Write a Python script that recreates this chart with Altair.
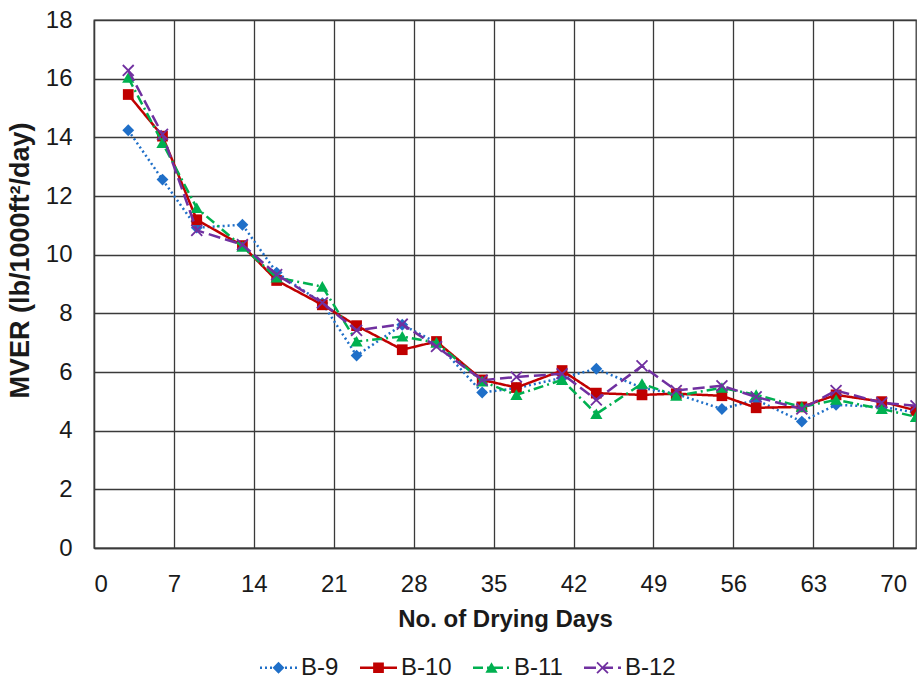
import altair as alt
import pandas as pd

# ---- data ----
days = [3, 6, 9, 13, 16, 20, 23, 27, 30, 34, 37, 41, 44, 48, 51, 55, 58, 62, 65, 69, 72]
b9 = [14.24, 12.56, 10.92, 11.02, 9.39, 8.35, 6.56, 7.61, 7.00, 5.30, 5.45, 5.80, 6.11,
      5.46, 5.25, 4.74, 5.05, 4.31, 4.88, 4.81, 4.62]
b10 = [15.46, 14.04, 11.19, 10.31, 9.12, 8.29, 7.58, 6.76, 7.04, 5.73, 5.47, 6.05, 5.28,
       5.22, 5.26, 5.19, 4.78, 4.81, 5.22, 4.99, 4.69]
b11 = [16.03, 13.81, 11.59, 10.27, 9.22, 8.91, 7.04, 7.21, 7.00, 5.68, 5.22, 5.73, 4.57,
       5.60, 5.19, 5.46, 5.22, 4.81, 5.05, 4.74, 4.47]
b12 = [16.28, 14.10, 10.83, 10.34, 9.32, 8.36, 7.42, 7.63, 6.87, 5.72, 5.83, 5.94, 5.05,
       6.21, 5.37, 5.53, 5.15, 4.74, 5.37, 4.95, 4.85]

series = ["B-9", "B-10", "B-11", "B-12"]
x_ticks = [0, 7, 14, 21, 28, 35, 42, 49, 56, 63, 70]
y_ticks = [0, 2, 4, 6, 8, 10, 12, 14, 16, 18]

# ---- styles ----
colors = ["#1F6FC8", "#C00000", "#00B050", "#7030A0"]
dashes = [[2, 3], [1, 0], [10, 4, 2, 4], [12, 5]]
markers = [
    "M0,-0.32L0.32,0L0,0.32L-0.32,0Z",
    "M-0.29,-0.29L0.29,-0.29L0.29,0.29L-0.29,0.29Z",
    "M0,-0.3L0.33,0.27L-0.33,0.27Z",
    "M-0.33,-0.26L-0.26,-0.33L0.33,0.26L0.26,0.33Z M0.26,-0.33L0.33,-0.26L-0.26,0.33L-0.33,0.26Z",
]
FONT = "Liberation Sans"
TXT = "#1a1a1a"
GRID = "#3a3a3a"
SYM = 1369            # symbol box = 37 px
UNIT = 18.5           # px per path unit at SYM
LW = 2.5              # line width px


def legend_symbol(pattern, marker):
    """Filled path: dashed line segment (as rectangles) plus marker."""
    half = LW / 2 / UNIT
    parts = []
    pos = -UNIT
    i = 0
    while pos < UNIT - 1e-9:
        seg = pattern[i % len(pattern)]
        end = min(pos + seg, UNIT)
        if i % 2 == 0:
            a, b = pos / UNIT, end / UNIT
            parts.append(f"M{a:.3f},{-half:.3f}L{b:.3f},{-half:.3f}L{b:.3f},{half:.3f}L{a:.3f},{half:.3f}Z")
        pos = end
        i += 1
    parts.append(marker)
    return " ".join(parts)


legend_paths = [legend_symbol(p, m) for p, m in zip(dashes, markers)]

rows = []
for name, vals in zip(series, [b9, b10, b11, b12]):
    for d, v in zip(days, vals):
        rows.append({"day": d, "mver": v, "series": name})
df = pd.DataFrame(rows)

x = alt.X("day:Q",
          scale=alt.Scale(domain=[0, 72], nice=False, zero=True),
          axis=alt.Axis(values=x_ticks, title="No. of Drying Days", grid=True,
                        labelPadding=24, titlePadding=11))
y = alt.Y("mver:Q",
          scale=alt.Scale(domain=[0, 18], nice=False),
          axis=alt.Axis(values=y_ticks, title="MVER (lb/1000ft²/day)", grid=True,
                        labelPadding=22, titleAngle=-90, titleX=-74, titleY=240,
                        titleBaseline="middle", titleAlign="center", titleFontSize=27))

base = alt.Chart(df)
layers = []
for name, c, d, m in zip(series, colors, dashes, markers):
    sub = base.transform_filter(alt.datum.series == name)
    layers.append(sub.mark_line(color=c, strokeDash=d, strokeWidth=LW, clip=True).encode(
        x=x, y=y, order=alt.Order("day:Q")))
    layers.append(sub.mark_point(shape=m, size=SYM, filled=True, color=c, opacity=1,
                                 strokeWidth=0, clip=True).encode(x=x, y=y))

leg = alt.Legend(orient="none", legendX=166, legendY=629, direction="horizontal",
                 title=None, symbolSize=SYM, symbolStrokeWidth=0, symbolOpacity=1,
                 labelFontSize=24, labelFont=FONT, labelColor=TXT,
                 labelOffset=4, columnPadding=21, padding=0)

legend_layer = base.transform_filter("false").mark_point(
    filled=True, size=SYM, strokeWidth=0, opacity=1).encode(
    x=x, y=y,
    fill=alt.Fill("series:N", scale=alt.Scale(domain=series, range=colors), legend=leg),
    shape=alt.Shape("series:N", scale=alt.Scale(domain=series, range=legend_paths), legend=leg),
)
layers.append(legend_layer)

chart = alt.layer(*layers).properties(
    width=822, height=528,
    autosize=alt.AutoSizeParams(type="none"),
    padding={"left": 94, "top": 20, "right": 1, "bottom": 132},
    background="white",
).configure_view(
    stroke=GRID, strokeWidth=1.3
).configure_axis(
    gridColor=GRID, gridWidth=1.3, gridOpacity=1,
    domainColor=GRID, domainWidth=1.3,
    ticks=False, tickSize=0,
    labelFont=FONT, labelFontSize=24, labelColor=TXT,
    titleFont=FONT, titleFontSize=24, titleFontWeight="bold", titleColor=TXT,
)

chart.save("out.html", embed_options={"renderer": "svg", "actions": False})
